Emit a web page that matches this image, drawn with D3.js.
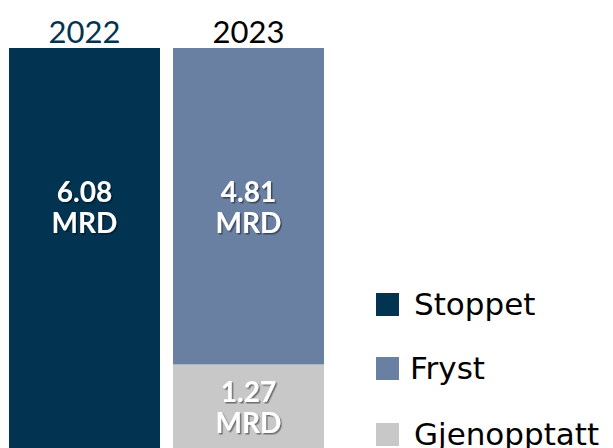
<!DOCTYPE html>
<html>
<head>
<meta charset="utf-8">
<script src="https://cdn.jsdelivr.net/npm/d3@7"></script>
<style>
  html, body { margin: 0; padding: 0; background: #ffffff; }
  svg { display: block; }
</style>
</head>
<body>
<svg id="chart" width="613" height="448"></svg>
<script>
// ---- data ----
const categories = ["2022", "2023"];
const seriesNames = ["Stoppet", "Fryst", "Gjenopptatt"];
const stoppet = [6.08, 0];
const fryst = [0, 4.81];
const gjenopptatt = [0, 1.27];
const unit = "MRD";

// ---- styles ----
const colors = { "Stoppet": "#023452", "Fryst": "#6a80a2", "Gjenopptatt": "#c8c8c8" };
const yearColors = ["#023452", "#000000"];
const FONT = "Lato, 'Open Sans', sans-serif";
const LEGEND_FONT = "'DejaVu Sans', sans-serif";

const svg = d3.select("#chart");
const W = 613, H = 448;

const rows = categories.map((c, i) => ({
  category: c, Stoppet: stoppet[i], Fryst: fryst[i], Gjenopptatt: gjenopptatt[i]
}));
// bottom-to-top stacking order
const stack = d3.stack().keys(["Gjenopptatt", "Fryst", "Stoppet"]);
const layers = stack(rows);

const x = d3.scaleBand().domain(categories).range([9, 324])
  .paddingInner(13 / 164).paddingOuter(0);
const yMax = d3.max(rows, r => r.Stoppet + r.Fryst + r.Gjenopptatt);
const y = d3.scaleLinear().domain([0, yMax]).range([H, 48]);

// bars
const g = svg.append("g");
layers.forEach(layer => {
  g.selectAll(null)
    .data(layer.filter(d => d[1] - d[0] > 0))
    .enter().append("rect")
    .attr("x", d => x(d.data.category))
    .attr("width", x.bandwidth())
    .attr("y", d => y(d[1]))
    .attr("height", d => y(d[0]) - y(d[1]))
    .attr("fill", colors[layer.key]);
});

// shadow filter
const defs = svg.append("defs");
const f = defs.append("filter").attr("id", "ts").attr("x", "-20%").attr("y", "-20%")
  .attr("width", "140%").attr("height", "140%");
f.append("feDropShadow").attr("dx", 1.5).attr("dy", 1.5).attr("stdDeviation", 0.6)
  .attr("flood-color", "#000").attr("flood-opacity", 0.45);

// value labels: top segments aligned at same height, others centered
const segs = [];
layers.forEach(layer => layer.forEach(d => {
  if (d[1] - d[0] > 0) segs.push({ key: layer.key, cat: d.data.category, v0: d[0], v1: d[1], value: d[1] - d[0] });
}));
const isTop = s => Math.abs(s.v1 - yMax) < 1e-6;
const topMid = d3.min(segs.filter(isTop), s => (y(s.v0) + y(s.v1)) / 2);
segs.forEach(s => {
  const cy = isTop(s) ? topMid : (y(s.v0) + y(s.v1)) / 2;
  const cx = x(s.cat) + x.bandwidth() / 2;
  const t = svg.append("text")
    .attr("x", cx).attr("text-anchor", "middle")
    .attr("font-family", FONT).attr("font-weight", 700).attr("font-size", 28)
    .attr("fill", "#ffffff")
    .attr("filter", "url(#ts)");
  t.append("tspan").attr("x", cx).attr("y", cy - 4).text(s.value.toFixed(2));
  t.append("tspan").attr("x", cx).attr("y", cy + 27).text(unit);
});

// year labels
categories.forEach((c, i) => {
  svg.append("text")
    .attr("x", x(c) + x.bandwidth() / 2).attr("y", 43)
    .attr("text-anchor", "middle")
    .attr("font-family", FONT).attr("font-size", 31)
    .attr("fill", yearColors[i])
    .text(c);
});

// legend
const legendY = [304, 368, 434];
seriesNames.forEach((n, i) => {
  const lg = svg.append("g").attr("transform", `translate(376,${legendY[i]})`);
  lg.append("rect").attr("x", 0).attr("y", -11).attr("width", 23).attr("height", 23)
    .attr("fill", colors[n]);
  lg.append("text").attr("x", i === 1 ? 34 : 38).attr("y", 11)
    .attr("font-family", LEGEND_FONT).attr("font-size", 31).attr("fill", "#000")
    .text(n);
});
</script>
</body>
</html>
